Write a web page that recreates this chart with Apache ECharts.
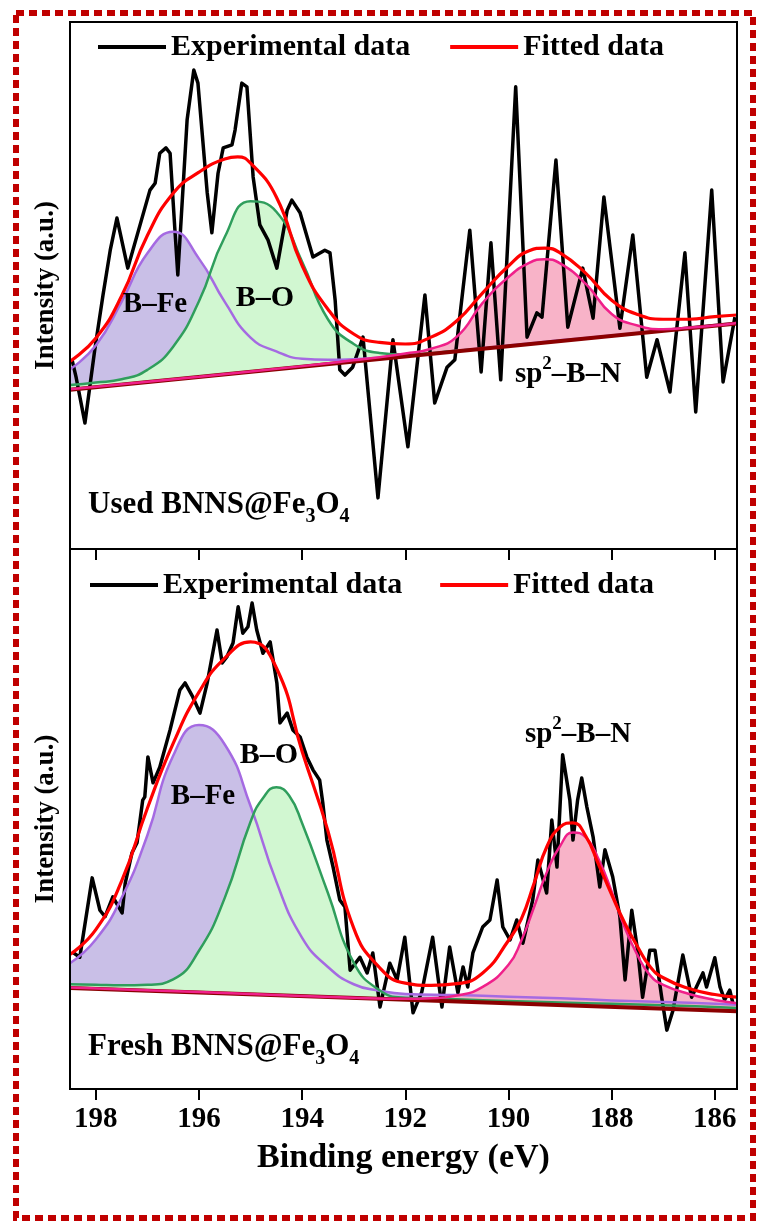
<!DOCTYPE html>
<html>
<head>
<meta charset="utf-8">
<script src="https://cdn.jsdelivr.net/npm/echarts@6/dist/echarts.min.js"></script>
<style>
  html, body { margin: 0; padding: 0; background: #ffffff; }
  #chart { width: 760px; height: 1227px; }
</style>
</head>
<body>
<div id="chart"></div>
<script>
// B 1s XPS spectra of BNNS@Fe3O4, used (upper) and fresh (lower)
// Binding energy window (eV); the axis runs from high to low energy
const E_LOW = 185.57;
const E_HIGH = 198.5;
const ENERGY_TICKS = [186, 188, 190, 192, 194, 196, 198];

// ---------- Used BNNS@Fe3O4 : [binding energy (eV), intensity (a.u.)] ----------
const usedExperimental = [
  [198.46,35.9],[198.38,32.5],[198.21,23.9],[198.02,37.8],[197.86,48.2],[197.72,56.7],[197.59,62.8],
  [197.38,53.3],[196.95,68.1],[196.85,69.4],[196.76,75.1],[196.64,76.1],[196.56,75.1],[196.47,61.1],
  [196.41,52.0],[196.23,81.4],[196.10,90.9],[196.02,88.4],[195.84,67.6],[195.75,60.0],[195.63,71.3],
  [195.53,76.1],[195.36,76.7],[195.30,79.5],[195.17,88.4],[195.07,87.7],[194.95,70.6],[194.82,61.5],
  [194.66,58.6],[194.49,53.3],[194.29,64.3],[194.20,66.2],[194.04,63.8],[193.79,55.4],[193.56,56.7],
  [193.46,56.2],[193.36,47.2],[193.27,34.0],[193.17,33.0],[193.02,34.5],[192.82,40.2],[192.53,9.7],
  [192.24,39.7],[191.95,19.4],[191.62,48.2],[191.43,27.7],[191.19,34.5],[191.04,35.9],[190.75,60.5],
  [190.53,33.6],[190.34,58.1],[190.15,32.1],[189.86,87.7],[189.64,40.2],[189.45,44.8],[189.35,44.0],
  [189.08,73.8],[188.85,42.1],[188.56,53.3],[188.36,43.8],[188.15,66.8],[187.84,41.9],[187.59,59.6],
  [187.32,32.6],[187.12,39.7],[186.87,29.8],[186.58,56.2],[186.37,26.0],[186.06,68.1],[185.84,31.7],
  [185.61,44.0]
];
const usedFitted = [
  [198.5,35.6],[198.0,40.0],[197.5,48.0],[197.0,59.5],[196.5,67.5],[196.0,71.5],[195.5,74.0],
  [195.25,74.4],[195.0,73.2],[194.5,66.8],[194.0,53.8],[193.5,45.5],[193.0,40.8],[192.5,39.2],
  [192.0,38.9],[191.5,40.2],[191.0,43.3],[190.5,48.6],[190.0,53.7],[189.6,56.6],[189.3,57.1],
  [189.0,56.2],[188.5,52.3],[188.0,47.2],[187.5,44.5],[187.0,43.6],[186.5,43.6],[186.0,44.1],
  [185.57,44.4]
];
const usedBFe = [
  [198.5,34.1],[198.0,38.6],[197.5,46.9],[197.0,56.1],[196.5,60.2],[196.0,55.1],[195.5,46.9],
  [195.0,40.1],[194.5,37.5],[194.0,36.1],[193.5,35.9],[193.0,36.0],[192.0,36.6],[191.0,37.6],
  [190.0,38.6],[189.0,39.6],[188.0,40.5],[187.0,41.5],[186.0,42.5],[185.57,42.9]
];
const usedBO = [
  [198.5,31.1],[198.0,31.6],[197.5,32.2],[197.0,34.0],[196.5,38.4],[196.0,47.0],[195.5,59.2],
  [195.0,66.0],[194.5,64.0],[194.0,54.5],[193.5,43.6],[193.0,38.9],[192.5,37.2],[192.0,36.9],
  [191.0,37.6],[190.0,38.5],[189.0,39.5],[188.0,40.4],[187.0,41.4],[186.0,42.4],[185.57,42.8]
];
const usedBN = [
  [198.5,30.3],[196.0,32.7],[194.0,34.7],[193.0,35.8],[192.5,36.4],[192.0,37.1],[191.5,38.0],
  [191.0,40.3],[190.5,46.7],[190.0,51.6],[189.6,54.3],[189.3,55.0],[189.0,54.2],[188.5,50.3],
  [188.0,44.6],[187.5,42.4],[187.0,41.7],[186.5,42.0],[186.0,42.4],[185.57,42.9]
];
const usedBackground = [[198.5,30.2],[185.57,42.8]];

// ---------- Fresh BNNS@Fe3O4 ----------
const freshExperimental = [
  [198.46,25.4],[198.31,24.4],[198.07,39.1],[197.92,33.1],[197.82,31.9],[197.67,35.6],[197.49,32.6],
  [197.43,38.1],[197.30,43.7],[197.20,45.6],[197.09,53.5],[197.05,54.1],[196.99,61.5],[196.89,56.7],
  [196.76,59.6],[196.56,66.5],[196.37,73.9],[196.27,75.2],[196.12,72.6],[195.98,69.6],[195.84,75.2],
  [195.65,85.0],[195.55,78.9],[195.46,80.0],[195.34,82.6],[195.24,89.3],[195.15,84.4],[195.05,85.6],
  [194.97,90.0],[194.88,85.0],[194.76,80.7],[194.62,82.8],[194.49,75.2],[194.43,67.8],[194.29,69.6],
  [194.18,66.5],[194.04,65.2],[193.91,61.5],[193.79,59.1],[193.66,57.2],[193.60,53.0],[193.52,46.1],
  [193.40,41.1],[193.27,35.0],[193.17,33.7],[193.07,22.0],[192.88,24.4],[192.74,21.5],[192.63,25.2],
  [192.49,15.2],[192.30,23.3],[192.16,20.2],[192.01,28.1],[191.85,14.1],[191.68,18.0],[191.47,28.1],
  [191.29,15.2],[191.14,26.3],[190.98,17.8],[190.88,22.6],[190.79,18.9],[190.69,25.2],[190.50,30.0],
  [190.36,31.3],[190.22,38.7],[190.11,30.0],[189.97,27.6],[189.84,31.3],[189.72,27.0],[189.53,35.0],
  [189.43,42.4],[189.26,36.3],[189.16,49.8],[189.06,41.1],[188.95,61.9],[188.81,53.5],[188.75,46.1],
  [188.66,53.5],[188.58,57.6],[188.48,52.2],[188.36,46.7],[188.23,37.4],[188.13,44.3],[187.98,39.3],
  [187.84,31.9],[187.74,20.2],[187.61,33.1],[187.49,25.2],[187.40,17.0],[187.26,25.7],[187.16,25.7],
  [187.03,17.0],[186.93,10.9],[186.81,14.6],[186.62,24.8],[186.45,17.0],[186.23,21.5],[186.16,18.9],
  [186.00,24.3],[185.90,18.9],[185.81,16.5],[185.71,18.3],[185.65,15.9]
];
const freshFitted = [
  [198.5,24.9],[198.0,29.5],[197.5,38.5],[197.0,52.0],[196.5,64.0],[196.0,73.5],[195.5,79.8],
  [195.0,82.8],[194.5,78.0],[194.0,62.5],[193.5,47.8],[193.0,29.8],[192.5,22.5],[192.0,19.6],
  [191.5,19.2],[191.0,19.5],[190.5,21.5],[190.0,27.5],[189.75,31.5],[189.5,38.2],[189.25,45.0],
  [189.0,48.5],[188.75,49.3],[188.5,46.8],[188.25,41.5],[188.0,36.0],[187.75,30.8],[187.5,26.4],
  [187.25,22.6],[187.0,20.6],[186.5,18.6],[186.0,17.5],[185.57,17.0]
];
const freshBFe = [
  [198.5,23.3],[198.0,27.7],[197.5,35.4],[197.0,47.0],[196.5,61.7],[196.0,67.4],[195.5,63.8],
  [195.0,52.4],[194.5,38.4],[194.0,28.0],[193.5,22.6],[193.0,19.4],[192.5,18.2],[192.0,17.6],
  [191.0,17.4],[190.0,17.1],[189.0,16.8],[188.0,16.4],[187.0,16.1],[186.0,15.8],[185.57,15.6]
];
const freshBO = [
  [198.5,19.4],[198.0,19.3],[197.5,19.2],[197.0,19.3],[196.5,20.3],[196.0,25.6],[195.5,35.4],
  [195.0,49.5],[194.75,54.0],[194.5,55.9],[194.25,54.3],[194.0,49.2],[193.5,36.3],[193.0,23.4],
  [192.5,18.3],[192.0,16.9],[191.0,16.6],[190.0,16.3],[189.0,16.0],[188.0,15.8],[187.0,15.5],
  [186.0,15.2],[185.57,15.0]
];
const freshBN = [
  [198.5,18.8],[197.0,18.3],[195.0,17.6],[193.0,16.9],[192.0,16.7],[191.5,16.8],[191.0,17.3],
  [190.5,18.9],[190.0,23.0],[189.75,27.5],[189.5,33.8],[189.25,40.3],[189.0,45.0],[188.75,47.5],
  [188.5,46.6],[188.25,42.5],[188.0,36.6],[187.75,30.0],[187.5,24.8],[187.25,21.0],[187.0,19.3],
  [186.5,17.6],[186.0,16.5],[185.57,15.9]
];
const freshBackground = [[198.5,18.7],[185.57,14.4]];

// ---------- styling ----------
const SERIF = "'Liberation Serif', 'Times New Roman', serif";
const COLORS = {
  exp: '#000000', fit: '#ff0000',
  bfeLine: '#a56ae2', bfeFill: '#c9bfe7',
  boLine: '#2f9e5c', boFill: '#d1f7d1',
  bnLine: '#f0208a', bnFill: '#f8b3c8',
  bg: '#8b0000'
};

const chart = echarts.init(document.getElementById('chart'), null, { renderer: 'canvas' });

const grids = [
  { left: 70, right: 23, top: 22, height: 527 },
  { left: 70, right: 23, top: 549, height: 540 }
];

function fillSeries(idx, name, data, color) {
  return {
    name, type: 'line', xAxisIndex: idx, yAxisIndex: idx, data,
    smooth: 0.5, symbol: 'none', silent: true,
    lineStyle: { width: 0, opacity: 0 },
    areaStyle: { color, opacity: 1 }
  };
}
function curveSeries(idx, name, data, color, width, smooth) {
  return {
    name, type: 'line', xAxisIndex: idx, yAxisIndex: idx, data,
    smooth: smooth, symbol: 'none', silent: true,
    lineStyle: { color, width, join: 'round' }, itemStyle: { color }
  };
}

function panelSeries(idx, d) {
  return [
    fillSeries(idx, 'B–Fe area', d.bfe, COLORS.bfeFill),
    fillSeries(idx, 'B–O area', d.bo, COLORS.boFill),
    fillSeries(idx, 'sp2 area', d.bn, COLORS.bnFill),
    // white area under the background line keeps the fills above it
    fillSeries(idx, 'below background', d.bg, '#ffffff'),
    curveSeries(idx, 'Experimental data', d.exp, COLORS.exp, 3.5, false),
    curveSeries(idx, 'B–Fe', d.bfe, COLORS.bfeLine, 2.5, 0.5),
    curveSeries(idx, 'B–O', d.bo, COLORS.boLine, 2.5, 0.5),
    curveSeries(idx, 'Background', d.bg, COLORS.bg, 4, false),
    curveSeries(idx, 'sp2–B–N', d.bn, COLORS.bnLine, 2.5, 0.5),
    curveSeries(idx, 'Fitted data', d.fit, COLORS.fit, 3.2, 0.5)
  ];
}

function xAxisFor(idx, withLabels) {
  return {
    type: 'value', gridIndex: idx, inverse: true, min: E_LOW, max: E_HIGH, z: 10,
    axisLine: { show: true, lineStyle: { color: '#000', width: 2 } },
    axisTick: { show: true, inside: false, length: 11, customValues: ENERGY_TICKS,
                lineStyle: { color: '#000', width: 2 } },
    axisLabel: { show: withLabels, customValues: ENERGY_TICKS, margin: 16,
                 fontFamily: SERIF, fontSize: 29, fontWeight: 'bold', color: '#000' },
    splitLine: { show: false },
    name: withLabels ? 'Binding energy (eV)' : '',
    nameLocation: 'middle', nameGap: 52,
    nameTextStyle: { fontFamily: SERIF, fontSize: 34, fontWeight: 'bold', color: '#000' }
  };
}
function yAxisFor(idx) {
  return {
    type: 'value', gridIndex: idx, min: 0, max: 100, z: 10,
    axisLine: { show: true, lineStyle: { color: '#000', width: 2 } },
    axisTick: { show: false }, axisLabel: { show: false }, splitLine: { show: false },
    name: 'Intensity (a.u.)', nameLocation: 'middle', nameGap: 10, nameRotate: 90,
    nameTextStyle: { fontFamily: SERIF, fontSize: 27, fontWeight: 'bold', color: '#000' }
  };
}

const legendText = { fontFamily: SERIF, fontSize: 30, fontWeight: 'bold', color: '#000' };
const legendBase = {
  data: ['Experimental data', 'Fitted data'], icon: 'rect', itemWidth: 68, itemHeight: 4,
  textStyle: legendText, selectedMode: false
};

const subRich = {
  a: { fontFamily: SERIF, fontSize: 31, fontWeight: 'bold', fill: '#000', lineHeight: 44, verticalAlign: 'middle' },
  s: { fontFamily: SERIF, fontSize: 20, fontWeight: 'bold', fill: '#000', lineHeight: 20, verticalAlign: 'bottom' }
};
const supRich = {
  a: { fontFamily: SERIF, fontSize: 29, fontWeight: 'bold', fill: '#000', lineHeight: 40, verticalAlign: 'middle' },
  p: { fontFamily: SERIF, fontSize: 19, fontWeight: 'bold', fill: '#000', lineHeight: 19, verticalAlign: 'top' }
};
function label(x, y, text, size) {
  return { type: 'text', x, y, z: 50, silent: true,
           style: { text, fill: '#000', font: 'bold ' + size + 'px ' + SERIF,
                    align: 'center', verticalAlign: 'middle' } };
}
function richLabel(x, y, text, rich, align) {
  return { type: 'text', x, y, z: 50, silent: true,
           style: { text, rich, align: align || 'center', verticalAlign: 'middle' } };
}

const option = {
  backgroundColor: '#ffffff',
  animation: false,
  grid: grids.map(g => Object.assign({ show: true, borderColor: '#000', borderWidth: 2, z: 20 }, g)),
  xAxis: [xAxisFor(0, false), xAxisFor(1, true)],
  yAxis: [yAxisFor(0), yAxisFor(1)],
  legend: [
    Object.assign({ left: 93, top: 27, itemGap: 40 }, legendBase),
    Object.assign({ left: 85, top: 565, itemGap: 38 }, legendBase)
  ],
  series: [
    ...panelSeries(0, { exp: usedExperimental, fit: usedFitted, bfe: usedBFe, bo: usedBO, bn: usedBN, bg: usedBackground }),
    ...panelSeries(1, { exp: freshExperimental, fit: freshFitted, bfe: freshBFe, bo: freshBO, bn: freshBN, bg: freshBackground })
  ],
  graphic: [
    // dotted frame around the figure
    { type: 'rect', z: 60, silent: true,
      shape: { x: 16, y: 13, width: 737, height: 1205 },
      style: { fill: null, stroke: '#c00000', lineWidth: 6, lineDash: [8, 5] } },
    // component labels, upper panel
    label(155, 305, 'B–Fe', 29),
    label(265, 298, 'B–O', 30),
    richLabel(568, 375, '{a|sp}{p|2}{a|–B–N}', supRich),
    // component labels, lower panel
    label(203, 797, 'B–Fe', 29),
    label(269, 755, 'B–O', 30),
    richLabel(578, 735, '{a|sp}{p|2}{a|–B–N}', supRich),
    // sample names
    richLabel(88, 505, '{a|Used BNNS@Fe}{s|3}{a|O}{s|4}', subRich, 'left'),
    richLabel(88, 1047, '{a|Fresh BNNS@Fe}{s|3}{a|O}{s|4}', subRich, 'left')
  ]
};

chart.setOption(option);
</script>
</body>
</html>
